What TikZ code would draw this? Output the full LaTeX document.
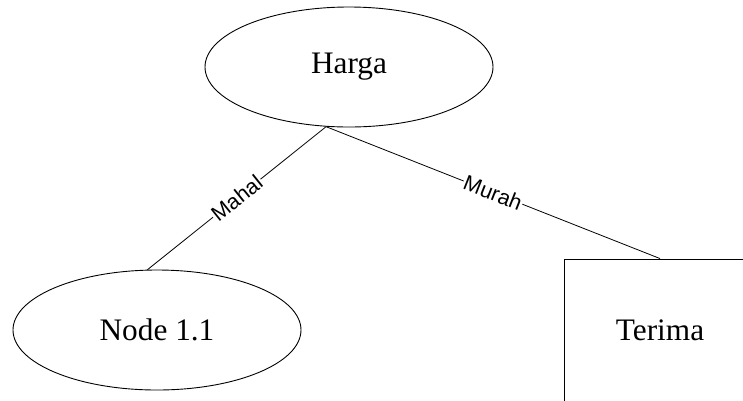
\documentclass[tikz,border=0pt]{standalone}
\usepackage{fontspec}
\setmainfont{Liberation Serif}
\newfontfamily\labelfont{Liberation Sans}
\usetikzlibrary{shapes.geometric}
\begin{document}
\begin{tikzpicture}[x=1pt,y=-1pt,
  every node/.style={font=\fontsize{31.3}{36}\selectfont},
  oval/.style={draw,ellipse,line width=0.9pt,inner sep=0pt,minimum width=288pt,minimum height=120pt},
  leaf/.style={draw,rectangle,line width=0.9pt,inner sep=0pt,minimum width=192pt,minimum height=142pt},
  edge/.style={draw,line width=0.8pt},
  edgelabel/.style={font=\labelfont\fontsize{21.5}{24}\selectfont,fill=white,inner sep=1pt,sloped,midway}]
  \clip (0,0) rectangle (743,400);
  \node[oval] (harga) at (349,67) {Harga};
  \node[oval] (node11) at (157,330) {Node 1.1};
  \node[leaf] (terima) at (660,330) {Terima};
  \draw[edge] (harga.249) -- node[edgelabel] {Mahal} (node11.99);
  \draw[edge] (harga.249) -- node[edgelabel] {Murah} (terima.north);
\end{tikzpicture}
\end{document}
